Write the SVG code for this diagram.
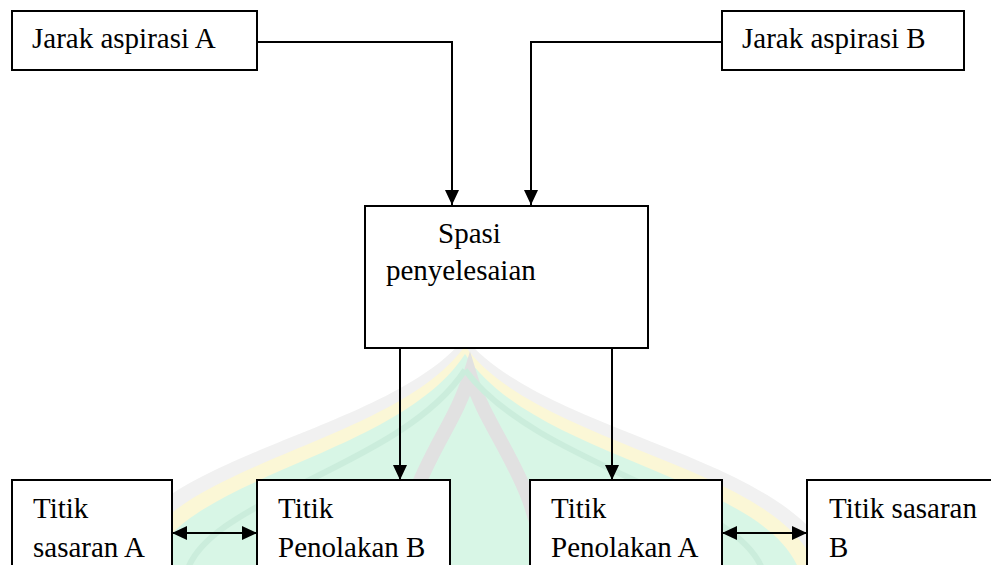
<svg xmlns="http://www.w3.org/2000/svg" width="991" height="565" viewBox="0 0 991 565">
  <style>
    .box { fill: #ffffff; stroke: #000000; stroke-width: 2; }
    .lbl { font-family: 'Liberation Serif', 'Times New Roman', 'DejaVu Serif', serif; font-size: 29px; fill: #000000; }
    .conn { fill: none; stroke: #000000; stroke-width: 2; }
  </style>
  <defs>
    <marker id="arrow" markerUnits="userSpaceOnUse" markerWidth="16" markerHeight="15" refX="15" refY="7" orient="auto-start-reverse">
      <path d="M0,0 L15,7 L0,14 z" fill="#000000"/>
    </marker>
  </defs>
  <rect x="0" y="0" width="991" height="565" fill="#ffffff"/>

  <g id="watermark" opacity="0.85">
    <path d="M110,580 C120,455 380,440 465,338 C550,440 810,455 840,580 Z" fill="#efefef"/>
    <path d="M130,580 C140,465 390,450 465,346 C540,450 795,465 820,580 Z" fill="#fbf6cf"/>
    <path d="M148,580 C158,478 395,462 465,354 C535,462 780,478 802,580 Z" fill="#d2f5e2"/>
    <path d="M400,580 C400,480 450,440 470,375 C490,440 540,480 545,580" fill="none" stroke="#dcdcdc" stroke-width="14"/>
    <path d="M185,580 C195,500 400,470 465,370" fill="none" stroke="#c3ebd7" stroke-width="6"/>
    <path d="M765,580 C755,500 540,470 465,370" fill="none" stroke="#c3ebd7" stroke-width="6"/>
  </g>

  <g id="connectors">
    <path class="conn" d="M257,42 H452 V205" marker-end="url(#arrow)"/>
    <path class="conn" d="M721,42 H531 V205" marker-end="url(#arrow)"/>
    <path class="conn" d="M400,348 V480" marker-end="url(#arrow)"/>
    <path class="conn" d="M612,348 V480" marker-end="url(#arrow)"/>
    <path class="conn" d="M172,533 H257" marker-start="url(#arrow)" marker-end="url(#arrow)"/>
    <path class="conn" d="M722,533 H807" marker-start="url(#arrow)" marker-end="url(#arrow)"/>
  </g>

  <g id="jarak-a">
    <rect class="box" x="12" y="11" width="245" height="59"/>
    <text class="lbl" font-family="Liberation Serif, serif" x="32" y="48">Jarak aspirasi A</text>
  </g>
  <g id="jarak-b">
    <rect class="box" x="722" y="11" width="242" height="59"/>
    <text class="lbl" font-family="Liberation Serif, serif" x="742" y="48">Jarak aspirasi B</text>
  </g>
  <g id="spasi">
    <rect class="box" x="365" y="206" width="283" height="142"/>
    <text class="lbl" font-family="Liberation Serif, serif" x="438" y="243">Spasi</text>
    <text class="lbl" font-family="Liberation Serif, serif" x="386" y="280">penyelesaian</text>
  </g>
  <g id="sasaran-a">
    <rect class="box" x="12" y="480" width="160" height="100"/>
    <text class="lbl" font-family="Liberation Serif, serif" x="33" y="518">Titik</text>
    <text class="lbl" font-family="Liberation Serif, serif" x="33" y="557">sasaran A</text>
  </g>
  <g id="penolakan-b">
    <rect class="box" x="257" y="480" width="193" height="100"/>
    <text class="lbl" font-family="Liberation Serif, serif" x="278" y="518">Titik</text>
    <text class="lbl" font-family="Liberation Serif, serif" x="278" y="557">Penolakan B</text>
  </g>
  <g id="penolakan-a">
    <rect class="box" x="530" y="480" width="192" height="100"/>
    <text class="lbl" font-family="Liberation Serif, serif" x="551" y="518">Titik</text>
    <text class="lbl" font-family="Liberation Serif, serif" x="551" y="557">Penolakan A</text>
  </g>
  <g id="sasaran-b">
    <rect class="box" x="807" y="480" width="200" height="100"/>
    <text class="lbl" font-family="Liberation Serif, serif" x="829" y="518">Titik sasaran</text>
    <text class="lbl" font-family="Liberation Serif, serif" x="829" y="557">B</text>
  </g>
</svg>
